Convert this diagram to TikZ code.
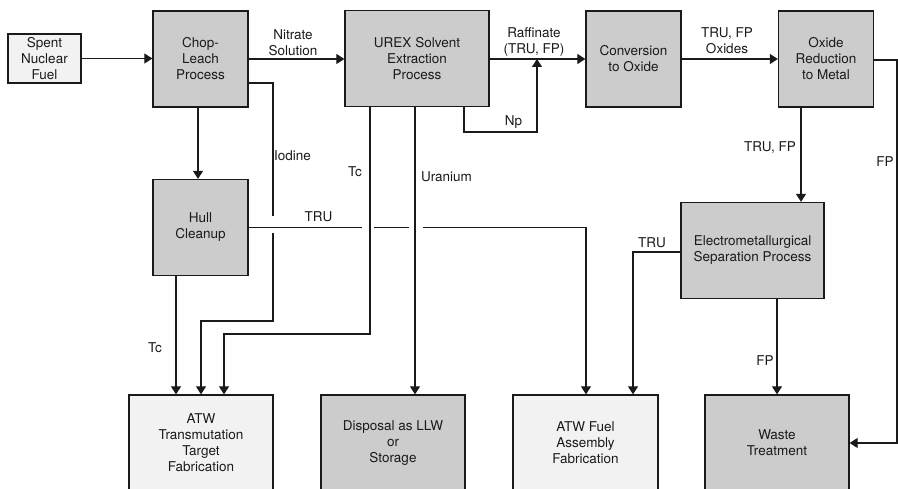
\documentclass[tikz,border=0pt]{standalone}
\usepackage{fontspec}
\setmainfont{TeX Gyre Heros}
\usetikzlibrary{arrows.meta,calc}
\definecolor{caja}{HTML}{CCCCCC}
\definecolor{clara}{HTML}{F2F2F2}
\definecolor{trazo}{HTML}{1A1A1A}
\tikzset{
  proc/.style={draw=trazo,line width=1.3pt,fill=caja,align=center,inner sep=0pt,
               minimum width=95pt,minimum height=96pt,text=trazo,
               font=\fontsize{13.5}{16}\selectfont},
  prod/.style={proc,fill=clara,minimum width=144pt},
  lbl/.style={align=center,inner sep=0pt,text=trazo,font=\fontsize{13.5}{16}\selectfont},
  flujo/.style={draw=trazo,line width=1.2pt,->}
}

\begin{document}
\begin{tikzpicture}[x=1pt,y=-1pt,>={Triangle[length=8pt,width=10pt]}]
    \useasboundingbox (0,0) rectangle (898,489);
    % --- fila superior ---
    \node[proc,fill=clara,minimum width=73pt,minimum height=49pt] (spent) at (44.5,58.5) {Spent\\Nuclear\\Fuel};
    \node[proc] (chop) at (200.5,59) {Chop-\\Leach\\Process};
    \node[proc,minimum width=144pt] (urex) at (417,58.5) {UREX Solvent\\Extraction\\Process};
    \node[proc] (conv) at (633.5,59) {Conversion\\to Oxide};
    \node[proc] (oxred) at (826,59) {Oxide\\Reduction\\to Metal};
    % --- fila media ---
    \node[proc] (hull) at (200.5,227.5) {Hull\\Cleanup};
    \node[proc,minimum width=143pt] (emsep) at (752.5,250.5) {Electrometallurgical\\Separation Process};
    % --- fila inferior (cortada por el borde) ---
    \node[prod] (atwt) at (201,443) {ATW\\Transmutation\\Target\\Fabrication};
    \node[proc,minimum width=144pt] (disp) at (393,443) {Disposal as LLW\\or\\Storage};
    \node[prod,minimum width=145pt] (atwf) at (585.5,443) {ATW Fuel\\Assembly\\Fabrication};
    \node[proc,minimum width=144pt] (waste) at (777,443) {Waste\\Treatment};
    % --- puntos de paso ---
    \coordinate (ch) at (198,140);
    \coordinate (np1) at (464,132);  \coordinate (np2) at (537,59);
    \coordinate (fpr) at (897,60);
    \coordinate (trufp) at (801,150);
    \coordinate (trul) at (633,252);
    \coordinate (io1) at (273,83);   \coordinate (io2) at (273,321);
    \coordinate (io3) at (201,321);
    \coordinate (ioa) at (273,216);  \coordinate (iob) at (273,233);
    \coordinate (g1) at (362,227.5); \coordinate (g2) at (374,227.5);
    \coordinate (g3) at (409,227.5); \coordinate (g4) at (423,227.5);
    \coordinate (tru1) at (586,300);
    \coordinate (tc1) at (370,334);  \coordinate (tc2) at (224,334);
    \coordinate (u1) at (415,300);
    \coordinate (h1) at (176,300);
    % --- corriente principal ---
    \draw[flujo] (spent.east) -- (spent.east -| chop.west);
    \draw[flujo] (chop.east) -- (chop.east -| urex.west);
    \draw[flujo] (urex.east |- conv.west) -- (conv.west);
    \draw[flujo] (conv) -- (oxred);
    \draw[flujo] (urex.south -| np1) -- (np1) -| (np2);
    \draw[flujo] (chop.south -| ch) -- (hull.north -| ch);
    \draw[flujo] (oxred.south -| trufp) -- (emsep.north -| trufp);
    \draw[flujo] (oxred.east |- fpr) -- (fpr) |- (waste.east);
    \draw[flujo] (emsep.west |- trul) -- (trul) -- (trul |- atwf.north);
    \draw[flujo] (emsep.south -| waste.north) -- (waste.north);
    % --- yodo (cortado donde pasa TRU) ---
    \draw[draw=trazo,line width=1.2pt] (chop.east |- io1) -- (io1) -- (ioa);
    \draw[flujo] (iob) -- (io2) -| (io3 |- atwt.north);
    % --- TRU de Hull Cleanup, con huecos en Tc y Uranium ---
    \draw[flujo] (hull.east) -- (g1) (g2) -- (g3) (g4) -| (tru1 |- atwf.north);
    \draw[flujo] (urex.south -| tc1) -- (tc1) -- (tc2) -- (tc2 |- atwt.north);
    \draw[flujo] (urex.south -| u1) -- (u1 |- disp.north);
    \draw[flujo] (hull.south -| h1) -- (h1 |- atwt.north);
    % --- rotulos ---
    \node[lbl] (lnit) at (293,42.5) {Nitrate\\Solution};
    \node[lbl] (lraf) at (534,42) {Raffinate\\(TRU, FP)};
    \node[lbl] (lnp) at (513.5,122) {Np};
    \node[lbl] (loxi) at (727,40.5) {TRU, FP\\Oxides};
    \node[lbl] (ltrufp) at (770,148) {TRU, FP};
    \node[lbl] (lfpr) at (885,162) {FP};
    \node[lbl] (ltrue) at (652,243) {TRU};
    \node[lbl] (lfpw) at (765,361) {FP};
    \node[lbl] (liod) at (292.5,156) {Iodine};
    \node[lbl] (ltruh) at (318.5,217) {TRU};
    \node[lbl] (ltc) at (355,172) {Tc};
    \node[lbl] (lura) at (446.5,177) {Uranium};
    \node[lbl] (ltch) at (155,348) {Tc};
\end{tikzpicture}
\end{document}
